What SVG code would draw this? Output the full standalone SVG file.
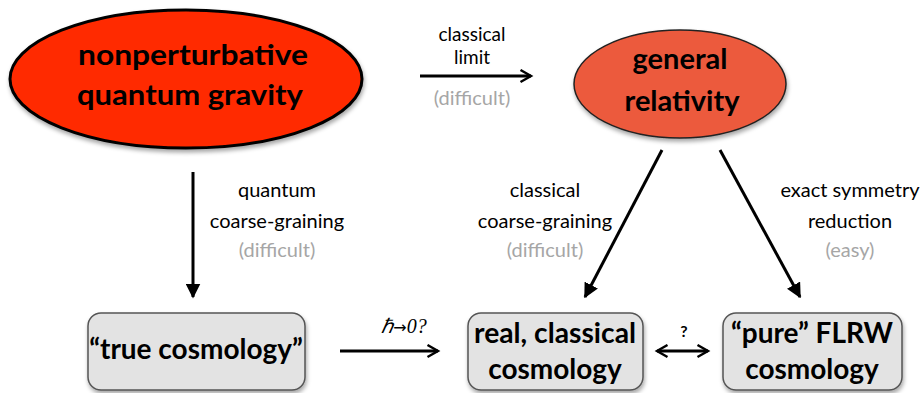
<svg xmlns="http://www.w3.org/2000/svg" width="922" height="393" viewBox="0 0 922 393">
<style>
.t{font-family:Lato,"Open Sans","Liberation Sans",sans-serif;text-anchor:middle;fill:#000}
.big{font-size:29px;font-weight:bold}
.bx{font-size:28px;font-weight:bold}
.lab{font-size:20px}
.gray{fill:#a6a6a6}
.con{stroke:#000;stroke-width:3;fill:none}
.box{fill:#e3e3e3;stroke:#555;stroke-width:1.5}
</style>
<defs>
<marker id="ah" viewBox="0 0 10 10" refX="8" refY="5" markerWidth="5" markerHeight="5" orient="auto-start-reverse" markerUnits="strokeWidth"><path d="M1,1 L8,5 L1,9" fill="none" stroke="#000" stroke-width="1.6"/></marker>
<marker id="fh" viewBox="0 0 10 10" refX="9" refY="5" markerWidth="5" markerHeight="5" orient="auto" markerUnits="strokeWidth"><path d="M0,0 L10,5 L0,10 Z" fill="#000"/></marker>
<filter id="sh" x="-10%" y="-10%" width="120%" height="130%"><feDropShadow dx="1" dy="3" stdDeviation="2" flood-color="#000" flood-opacity="0.35"/></filter>
</defs>
<g id="nqg">
<ellipse cx="186" cy="79" rx="176" ry="69" fill="#ff2b00" stroke="#000" stroke-width="3" filter="url(#sh)"/>
<text class="t big" x="193" y="65" textLength="230" lengthAdjust="spacingAndGlyphs">nonperturbative</text>
<text class="t big" x="190" y="105" textLength="226" lengthAdjust="spacingAndGlyphs">quantum gravity</text>
</g>
<g id="gr">
<ellipse cx="680" cy="84" rx="106" ry="54" fill="#ec5a3c" stroke="#222" stroke-width="1.5" filter="url(#sh)"/>
<text class="t big" x="680" y="69">general</text>
<text class="t big" x="682" y="111">relativity</text>
</g>
<g id="true">
<rect class="box" x="88" y="313" width="217" height="77" rx="13" filter="url(#sh)"/>
<text class="t bx" x="196" y="359">“true cosmology”</text>
</g>
<g id="real">
<rect class="box" x="468" y="313" width="175" height="77" rx="13" filter="url(#sh)"/>
<text class="t bx" x="555" y="343" textLength="162" lengthAdjust="spacingAndGlyphs">real, classical</text>
<text class="t bx" x="555" y="379">cosmology</text>
</g>
<g id="flrw">
<rect class="box" x="723" y="313" width="179" height="77" rx="13" filter="url(#sh)"/>
<text class="t bx" x="812" y="343">“pure” FLRW</text>
<text class="t bx" x="812" y="379">cosmology</text>
</g>
<g id="connectors">
<line class="con" x1="420" y1="76" x2="531" y2="76" stroke-width="2.5" marker-end="url(#ah)"/>
<line class="con" x1="193" y1="172" x2="193" y2="297" marker-end="url(#fh)"/>
<line class="con" x1="662" y1="150" x2="585" y2="297" marker-end="url(#fh)"/>
<line class="con" x1="720" y1="150" x2="800" y2="297" marker-end="url(#fh)"/>
<line class="con" x1="340" y1="351" x2="438" y2="351" stroke-width="2.5" marker-end="url(#ah)"/>
<line class="con" x1="657" y1="351" x2="708" y2="351" stroke-width="2.5" marker-start="url(#ah)" marker-end="url(#ah)"/>
</g>
<g id="labels">
<text class="t lab" x="472" y="41" style="font-size:19px">classical</text>
<text class="t lab" x="472" y="64" style="font-size:19px">limit</text>
<text class="t lab gray" x="472" y="105">(difficult)</text>
<text class="t lab" x="277" y="197">quantum</text>
<text class="t lab" x="277" y="228">coarse-graining</text>
<text class="t lab gray" x="277" y="257">(difficult)</text>
<text class="t lab" x="545" y="197">classical</text>
<text class="t lab" x="545" y="228">coarse-graining</text>
<text class="t lab gray" x="545" y="257">(difficult)</text>
<text class="t lab" x="850" y="197">exact symmetry</text>
<text class="t lab" x="850" y="228">reduction</text>
<text class="t lab gray" x="850" y="257">(easy)</text>
<text class="t" x="404" y="333" style="font-family:'Liberation Serif',serif;font-style:italic;font-size:20px">ℏ<tspan style="font-family:'DejaVu Sans',sans-serif;font-style:normal;font-size:16px">→</tspan>0?</text>
<text class="t lab" x="684" y="337" style="font-size:16px;font-weight:bold">?</text>
</g>
</svg>
